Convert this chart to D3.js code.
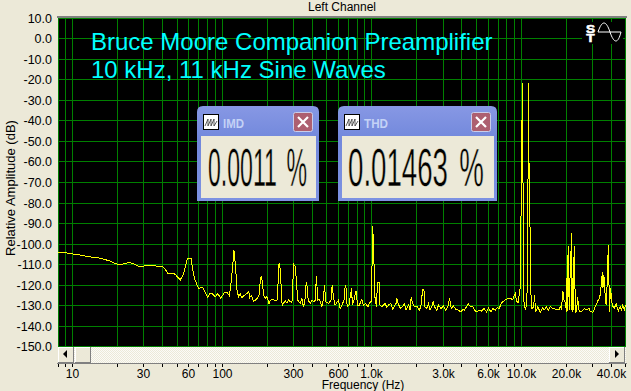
<!DOCTYPE html>
<html><head><meta charset="utf-8">
<script src="https://cdn.jsdelivr.net/npm/d3@7"></script>
<style>html,body{margin:0;padding:0;background:#ECE9D8;overflow:hidden}svg{display:block}text{font-family:"Liberation Sans",Arial,sans-serif}</style>
</head><body><div id="chart"></div>
<script>
const chartTitle = "Left Channel";
const overlayLines = ["Bruce Moore Companion Preamplifier", "10 kHz, 11 kHz Sine Waves"];
const xTitle = "Frequency (Hz)";
const yTitle = "Relative Amplitude (dB)";
const yTicks = [10,0,-10,-20,-30,-40,-50,-60,-70,-80,-90,-100,-110,-120,-130,-140,-150];
const xGrid = [8,9,10,20,30,40,50,60,70,80,90,100,200,300,400,500,600,700,800,900,1000,2000,3000,4000,5000,6000,7000,8000,9000,10000,20000,30000,40000,50000];
const xLabels = {10:"10",30:"30",60:"60",100:"100",300:"300",600:"600",1000:"1.0k",3000:"3.0k",6000:"6.0k",10000:"10.0k",20000:"20.0k",40000:"40.0k"};
const readouts = [{name:"IMD",value:"0.0011 %"},{name:"THD",value:"0.01463 %"}];
const freqHz = [8,9,10,11,12,13,14,15,16,17,18,19,20,21,22,23,24,25,26,27,28,29,30,32,34,36,38,40,41.6,43.4,48,49,52.5,55,56.5,58.7,62,63.8,65.6,67.8,70,74,77,80,82.5,86,90,93.5,98,103.5,108,112,115,117.5,120,123,126,129,132,135.5,143,151,153,157,162,171,177,179,182,184,186,190,194,199,206,210,219,227,235,238,241,245,249,252,258,264,271,279,285,293,297,302,310,313,321,333,342,350,359,365,370,376,388,398,410,419,427,436,447,464,476,483,493,514,535,544,555,569,599,615,640,653,665,675,685,705,733,743,760,785,806,826,858,880,910,943,965,990,1005,1015,1029,1050,1075,1082,1100,1120,1135,1165,1200,1230,1260,1295,1340,1385,1425,1455,1475,1500,1555,1610,1650,1695,1765,1810,1836,1875,1935,2005,2076,2130,2190,2233,2270,2335,2395,2455,2520,2570,2625,2720,2795,2900,3020,3130,3230,3315,3400,3520,3650,3800,3945,4060,4165,4325,4420,4560,4715,4870,5035,5230,5440,5640,5855,6035,6255,6455,6690,6910,7120,7345,7600,7880,8125,8450,8765,9100,9320,9530,9885,9985,10060,10140,10220,10290,10320,10620,10840,10950,11005,11090,11170,11270,11370,11530,11785,12080,12265,12450,12910,13380,13860,14220,14680,15130,15610,16260,16860,17300,17830,18200,18470,18770,18950,19260,19560,19930,20050,20200,20370,20570,20900,21140,21400,21560,21780,22000,22150,22340,22580,23000,23400,23760,24350,25400,26360,27400,28300,28870,29960,30370,31200,32400,33300,33840,34380,34780,35100,35650,36400,36900,37700,38100,38500,38800,39460,40500,41800,43050,44400,45800,46800,47700,48700,49750];
const levelDb = [-104,-104.2,-104.8,-105.2,-105.7,-106.2,-106.5,-106.7,-107.2,-107.8,-108.4,-109.2,-109.8,-110,-109.6,-109.2,-109,-109.3,-109.9,-110.4,-110.9,-111,-110.7,-110.3,-110.2,-110.6,-111,-110.8,-112.2,-114.3,-114.5,-115,-117.5,-114.8,-111.8,-107,-107,-112.7,-117,-119.6,-121.6,-121,-123.5,-126,-124.2,-124.2,-125.7,-124,-126.3,-123.7,-123.5,-125.2,-118.4,-111,-103,-111,-123.2,-125.5,-124.2,-126,-124.6,-123.2,-126,-125,-128,-126.6,-124.8,-119.6,-116,-116,-119.6,-125,-126.6,-125.6,-129,-127.3,-127,-127.6,-127,-111,-109,-112.7,-123,-130,-128.6,-127.6,-128.6,-127,-128,-128.6,-118.3,-110,-111,-118.3,-127.3,-128.9,-126.5,-130.8,-126.5,-118.3,-120.8,-127.3,-128.9,-127.3,-128,-127.3,-115.6,-127.3,-127,-130.5,-126.5,-120,-128,-128.9,-127.3,-120,-125.6,-129.7,-127.3,-131.3,-128.9,-127,-120,-121.6,-130.5,-129.7,-121.6,-129.7,-127.3,-123,-130,-129.7,-127,-130,-128.9,-130.5,-128.6,-128,-110,-91.2,-101.3,-125.6,-130.5,-124.8,-118.7,-118.7,-129.7,-130.5,-129.7,-128.9,-130.8,-129.7,-128.9,-131.8,-129.7,-128.9,-126.5,-128.9,-131.3,-130.5,-128.9,-131.8,-129.7,-132.2,-125.6,-128.9,-130.5,-130.2,-132.2,-130.5,-122.1,-122.1,-130.5,-131.3,-128.9,-132.2,-130.5,-128,-130.5,-132.2,-129.7,-131.3,-130.2,-132.2,-130.5,-126.5,-131.3,-130.2,-131.8,-132.2,-133,-131.8,-132.2,-130.2,-128.9,-130.5,-130.2,-132.2,-133,-132.2,-132.6,-131.3,-133,-131.3,-133,-131.3,-132.2,-131,-131.3,-128.9,-127.8,-127,-126.5,-126.5,-127,-124,-128,-128.4,-119.6,-71.2,-67,-21.7,-67,-72,-126,-132,-129.7,-121,-72,-68,-21.7,-68,-72.5,-122,-131.3,-130.5,-125,-133,-130.5,-133.3,-131,-132.1,-130.5,-132.1,-130.5,-131.3,-131.6,-131.6,-132.1,-130.5,-131.3,-127.3,-122.9,-127.3,-128.1,-131.3,-116.7,-132.9,-116.7,-101,-132.1,-116.7,-113.5,-94.8,-132.1,-116.7,-132.9,-116.7,-101,-133.3,-132.9,-125.6,-132.9,-132.6,-131.3,-132.1,-131.3,-132.6,-133.3,-132.6,-130.5,-127.8,-126.1,-124,-117.5,-113.8,-121.6,-115.1,-125.6,-129.7,-115.1,-100.5,-116.7,-132.9,-121.6,-129.7,-131.3,-128.9,-132.6,-130.5,-132.1,-129.7,-132.1,-129.7,-131.3];

const W = 631, H = 391;
const x = d3.scaleLog().domain([8,50000]).range([58,625.9]);
const y = d3.scaleLinear().domain([10,-150]).range([18.2,346.8]);
const px = v => Math.floor(v) + 0.5;
const svg = d3.select("#chart").append("svg").attr("width",W).attr("height",H);
const defs = svg.append("defs");
const hatch = defs.append("pattern").attr("id","hatch").attr("width",2).attr("height",2).attr("patternUnits","userSpaceOnUse");
hatch.append("rect").attr("width",2).attr("height",2).attr("fill","#fbfbf8");
hatch.append("rect").attr("width",1).attr("height",1).attr("fill","#ECE9D8");
hatch.append("rect").attr("x",1).attr("y",1).attr("width",1).attr("height",1).attr("fill","#ECE9D8");
const grad = defs.append("linearGradient").attr("id","titlebar").attr("x1",0).attr("x2",0).attr("y1",0).attr("y2",1);
grad.append("stop").attr("offset",0).attr("stop-color","#8798e4");
grad.append("stop").attr("offset",0.35).attr("stop-color","#7288dc");
grad.append("stop").attr("offset",1).attr("stop-color","#7d92e2");

svg.append("rect").attr("width",W).attr("height",H).attr("fill","#ECE9D8");
svg.append("rect").attr("x",57).attr("y",16).attr("width",570).attr("height",2).attr("fill","#808080");
svg.append("rect").attr("x",58).attr("y",18).attr("width",568).attr("height",329).attr("fill","#000");

// grid
const grid = svg.append("g").attr("stroke","#008000").attr("shape-rendering","crispEdges");
grid.selectAll(".v").data(xGrid).join("line").attr("x1",d=>px(x(d))).attr("x2",d=>px(x(d))).attr("y1",18).attr("y2",347);
grid.selectAll(".h").data(yTicks).join("line").attr("x1",58).attr("x2",626).attr("y1",d=>px(y(d))).attr("y2",d=>px(y(d)));

// trace
const line = d3.line().x((d,i)=>x(freqHz[i])).y(d=>y(d));
svg.append("path").datum(levelDb).attr("d",line).attr("fill","none").attr("stroke","#ffff00").attr("stroke-width",1).attr("shape-rendering","crispEdges");

// overlay title
svg.selectAll(".ot").data(overlayLines).join("text").attr("x",91).attr("y",(d,i)=>50+i*28)
  .attr("fill","#00ffff").attr("font-size",24).text(d=>d);

// S/T icon
const icon = svg.append("g");
icon.append("rect").attr("x",582).attr("y",22).attr("width",41).attr("height",22).attr("fill","#000");
icon.selectAll(".st").data(["S","T"]).join("text").attr("text-anchor","middle")
  .attr("transform",(d,i)=>`translate(590.5,${33+i*8.5}) scale(1.25,1)`)
  .attr("font-size",11).attr("font-weight","bold").attr("fill","#fff").attr("stroke","#fff").attr("stroke-width",.5).text(d=>d);
icon.append("path").attr("d","M598,32 C602,20 606,20 610,32 C614,44 618,44 621,32 M598,32 H621").attr("fill","none").attr("stroke","#fff").attr("stroke-width",1);

// scrollbar
const sb = svg.append("g").attr("shape-rendering","crispEdges");
sb.append("rect").attr("x",58).attr("y",347).attr("width",568).attr("height",16).attr("fill","url(#hatch)");
function button(bx,w){
  sb.append("rect").attr("x",bx+.5).attr("y",347.5).attr("width",w-1).attr("height",15).attr("fill","#ECE9D8").attr("stroke","#808080");
  sb.append("path").attr("d",`M${bx+.5},362 V347.5 H${bx+w-1}`).attr("fill","none").attr("stroke","#fff");
}
button(58,16); button(75,16); button(609,16);
svg.append("path").attr("d","M67,350 V358 L63,354 Z").attr("fill","#000");
svg.append("path").attr("d","M615,350 V358 L619,354 Z").attr("fill","#000");
svg.append("rect").attr("x",57).attr("y",363).attr("width",570).attr("height",1).attr("fill","#808080");

// axes
const yAxis = d3.axisLeft(y).tickValues(yTicks).tickFormat(d=>d.toFixed(1)).tickSize(0).tickPadding(0);
const ya = svg.append("g").attr("transform","translate(52,0)").call(yAxis);
ya.select(".domain").remove();
ya.selectAll("text").attr("font-size",12.5).attr("fill","#000").attr("font-family","Liberation Sans");
const xAxis = d3.axisBottom(x).tickValues(xGrid).tickFormat(d=>xLabels[d]||"").tickSize(3).tickPadding(2);
const xa = svg.append("g").attr("transform","translate(0.5,364)").call(xAxis);
xa.select(".domain").remove();
xa.selectAll("line").attr("stroke","#000").attr("shape-rendering","crispEdges").attr("transform",function(){return "translate(-0.5,0)"});
xa.selectAll("text").attr("font-size",12).attr("fill","#000").attr("font-family","Liberation Sans");
xa.selectAll(".tick").attr("transform",d=>`translate(${Math.floor(x(d))},0)`);

// titles
svg.append("text").attr("x",342).attr("y",11).attr("text-anchor","middle").attr("font-size",12).text(chartTitle);
svg.append("text").attr("x",363).attr("y",389).attr("text-anchor","middle").attr("font-size",12).text(xTitle);
svg.append("text").attr("transform","translate(15,188) rotate(-90)").attr("text-anchor","middle").attr("font-size",13).text(yTitle);

// readout panels
const panelGeom = [{x:197,w:122,tx:208,tw:99,nw:21},{x:338,w:159,tx:348,tw:136,nw:24}];
function squeeze(sel,lx,ly,target){
  const natural = sel.node().getComputedTextLength();
  sel.attr("transform",`translate(${lx},${ly}) scale(${target/natural},1)`);
}
readouts.forEach((r,i)=>{
  const p = panelGeom[i];
  const g = svg.append("g").attr("transform",`translate(${p.x},106)`);
  g.append("path").attr("d",`M0,95 V6 Q0,0 6,0 H${p.w-6} Q${p.w},0 ${p.w},6 V95 Z`).attr("fill","url(#titlebar)");
  g.append("rect").attr("x",4).attr("y",30).attr("width",p.w-7).attr("height",62).attr("fill","#ECE9D8").attr("shape-rendering","crispEdges");
  g.append("rect").attr("x",6.5).attr("y",8.5).attr("width",15).attr("height",15).attr("fill","#fff").attr("stroke","#000").attr("shape-rendering","crispEdges");
  g.append("path").attr("d","M8,20 L11,13 V20 L14,13 V20 L17,13 V20 L20,15").attr("fill","none").attr("stroke","#333").attr("stroke-width",.8);
  const nm = g.append("text").attr("font-size",13).attr("font-weight","bold").attr("fill","#c4d2f6").text(r.name);
  squeeze(nm,26,21.5,p.nw);
  const bx = p.w-26;
  g.append("rect").attr("x",bx+.5).attr("y",6.5).attr("width",19).attr("height",19).attr("rx",2).attr("fill","#ad5f70").attr("stroke","#c9cdea");
  g.append("path").attr("d",`M${bx+5},11 L${bx+15},21 M${bx+15},11 L${bx+5},21`).attr("stroke","#fff").attr("stroke-width",2.2);
  const val = g.append("text").attr("font-size",53).attr("fill","#000").attr("word-spacing",7)
    .attr("stroke","#ECE9D8").attr("stroke-width",.5).text(r.value);
  squeeze(val,p.tx-p.x,80,p.tw);
});
</script></body></html>
